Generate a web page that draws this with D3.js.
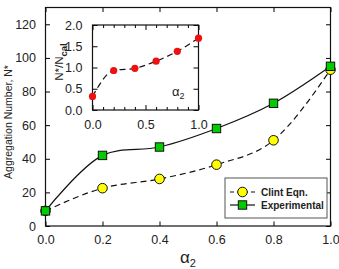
<!DOCTYPE html>
<html>
<head>
<meta charset="utf-8">
<script src="https://cdn.jsdelivr.net/npm/d3@7"></script>
<style>
  body { margin: 0; background: #fff; }
  svg { display: block; font-family: "Liberation Sans", Arial, sans-serif; }
  .tick text { fill: #222; }
</style>
</head>
<body>
<svg id="chart" width="339" height="269"></svg>
<script>
// data
var alpha = [0, 0.2, 0.4, 0.6, 0.8, 1.0];
var clint = [9, 22.5, 28, 36.5, 51, 93];
var experimental = [9, 42, 47, 58, 73, 95];
var ratio = [0.32, 0.93, 0.98, 1.15, 1.38, 1.69];

var mainXTicks = [0, 0.2, 0.4, 0.6, 0.8, 1.0];
var mainYTicks = [0, 20, 40, 60, 80, 100, 120];
var insetXTicks = [0, 0.5, 1.0];
var insetXMinor = [0.1, 0.2, 0.3, 0.4, 0.6, 0.7, 0.8, 0.9];
var insetYTicks = [0, 0.5, 1.0, 1.5, 2.0];

var svg = d3.select('#chart');

// main plot
var plotL = 45.5, plotR = 330.5, plotT = 7.5, plotB = 226;
var x = d3.scaleLinear().domain([0, 1]).range([plotL, plotR]);
var y = d3.scaleLinear().domain([0, 130]).range([plotB, plotT]);

function frame(g, xs, ys, xt, yt, tickLen, fmtX, fmtY, fs) {
    // bottom / left with labels, top / right mirror ticks, all pointing in
    g.append('g').attr('transform', 'translate(0,' + ys.range()[0] + ')')
        .call(d3.axisBottom(xs).tickValues(xt).tickSize(-tickLen).tickPadding(tickLen + 5).tickFormat(fmtX))
        .call(a => a.select('.domain').remove())
        .selectAll('text').style('font-size', fs + 'px');
    g.append('g').attr('transform', 'translate(0,' + ys.range()[1] + ')')
        .call(d3.axisTop(xs).tickValues(xt).tickSize(-tickLen).tickFormat(''))
        .call(a => a.select('.domain').remove());
    g.append('g').attr('transform', 'translate(' + xs.range()[0] + ',0)')
        .call(d3.axisLeft(ys).tickValues(yt).tickSize(-tickLen).tickPadding(tickLen + 5).tickFormat(fmtY))
        .call(a => a.select('.domain').remove())
        .selectAll('text').style('font-size', fs + 'px');
    g.append('g').attr('transform', 'translate(' + xs.range()[1] + ',0)')
        .call(d3.axisRight(ys).tickValues(yt).tickSize(-tickLen).tickFormat(''))
        .call(a => a.select('.domain').remove());
    g.append('rect')
        .attr('x', xs.range()[0]).attr('y', ys.range()[1])
        .attr('width', xs.range()[1] - xs.range()[0])
        .attr('height', ys.range()[0] - ys.range()[1])
        .attr('fill', 'none').attr('stroke', '#111').attr('stroke-width', 1.2);
}

var gMain = svg.append('g');
frame(gMain, x, y, mainXTicks, mainYTicks, 4.5, d3.format('.1f'), d3.format('d'), 12.5);

gMain.append('path').datum(clint)
    .attr('d', d3.line().x((d, i) => x(alpha[i])).y(d => y(d)).curve(d3.curveMonotoneX))
    .attr('fill', 'none').attr('stroke', '#111')
    .attr('stroke-width', 1.2).attr('stroke-dasharray', '6,4');
gMain.append('path').datum(experimental)
    .attr('d', d3.line().x((d, i) => x(alpha[i])).y(d => y(d)).curve(d3.curveCatmullRom.alpha(0.5)))
    .attr('fill', 'none').attr('stroke', '#111').attr('stroke-width', 1.2);

gMain.selectAll('.clint').data(clint).enter().append('circle')
    .attr('cx', (d, i) => x(alpha[i])).attr('cy', d => y(d)).attr('r', 4.8)
    .attr('fill', '#ffff00').attr('stroke', '#111').attr('stroke-width', 1);
gMain.selectAll('.exp').data(experimental).enter().append('rect')
    .attr('x', (d, i) => x(alpha[i]) - 4.2).attr('y', d => y(d) - 4.2)
    .attr('width', 8.4).attr('height', 8.4)
    .attr('fill', '#00cc00').attr('stroke', '#111').attr('stroke-width', 1);

// axis titles
svg.append('text').attr('transform', 'translate(12,' + 122 + ') rotate(-90)')
    .attr('text-anchor', 'middle').style('font-size', '10.5px').attr('fill', '#222')
    .text('Aggregation Number, N*');
var xt = svg.append('text').attr('x', 188).attr('y', 263).attr('text-anchor', 'middle')
    .style('font-size', '17px').attr('fill', '#222');
xt.append('tspan').text('α');
xt.append('tspan').attr('dy', 4).style('font-size', '11px').text('2');

// legend
var lg = svg.append('g');
lg.append('rect').attr('x', 225).attr('y', 178).attr('width', 102).attr('height', 40)
    .attr('fill', '#fff').attr('stroke', '#555').attr('stroke-width', 1);
var legendItems = [
    { name: 'Clint  Eqn.', dash: '4,3', y: 192 },
    { name: 'Experimental', dash: null, y: 205 }
];
legendItems.forEach(function (it, i) {
    lg.append('line').attr('x1', 230).attr('x2', 255).attr('y1', it.y).attr('y2', it.y)
        .attr('stroke', '#111').attr('stroke-width', 1.2).attr('stroke-dasharray', it.dash);
    if (i === 0) {
        lg.append('circle').attr('cx', 242.5).attr('cy', it.y).attr('r', 4.8)
            .attr('fill', '#ffff00').attr('stroke', '#111');
    } else {
        lg.append('rect').attr('x', 238.3).attr('y', it.y - 4.2).attr('width', 8.4).attr('height', 8.4)
            .attr('fill', '#00cc00').attr('stroke', '#111');
    }
    lg.append('text').attr('x', 261).attr('y', it.y + 4).style('font-size', '10px')
        .style('font-weight', 'bold').attr('fill', '#222').text(it.name);
});

// inset
var ix = d3.scaleLinear().domain([0, 1]).range([92.5, 198.5]);
var iy = d3.scaleLinear().domain([0, 2]).range([110, 25]);
var gIn = svg.append('g');
gIn.append('rect').attr('x', 92.5).attr('y', 25).attr('width', 106).attr('height', 85).attr('fill', '#fff');
frame(gIn, ix, iy, insetXTicks, insetYTicks, 5, d3.format('.1f'), d3.format('.1f'), 12.5);
// minor ticks on inset x
gIn.append('g').attr('transform', 'translate(0,110)')
    .call(d3.axisBottom(ix).tickValues(insetXMinor).tickSize(-3).tickFormat(''))
    .call(a => a.select('.domain').remove());
gIn.append('g').attr('transform', 'translate(0,25)')
    .call(d3.axisTop(ix).tickValues(insetXMinor).tickSize(-3).tickFormat(''))
    .call(a => a.select('.domain').remove());

gIn.append('path').datum(ratio)
    .attr('d', d3.line().x((d, i) => ix(alpha[i])).y(d => iy(d)).curve(d3.curveMonotoneX))
    .attr('fill', 'none').attr('stroke', '#111').attr('stroke-width', 1.2).attr('stroke-dasharray', '6,4');
gIn.selectAll('.ratio').data(ratio).enter().append('circle')
    .attr('cx', (d, i) => ix(alpha[i])).attr('cy', d => iy(d)).attr('r', 3.6)
    .attr('fill', '#ee1111');

var it2 = gIn.append('text').attr('x', 172).attr('y', 96).style('font-size', '13px').attr('fill', '#222');
it2.append('tspan').text('α');
it2.append('tspan').attr('dy', 3).style('font-size', '9px').text('2');

var yl = svg.append('text').attr('transform', 'translate(63,62) rotate(-90)')
    .attr('text-anchor', 'middle').style('font-size', '11.5px').attr('fill', '#222');
yl.append('tspan').text('N*/N');
yl.append('tspan').attr('dy', 3.5).style('font-size', '9.5px').style('font-weight', 'bold').text('cal');
</script>
</body>
</html>
